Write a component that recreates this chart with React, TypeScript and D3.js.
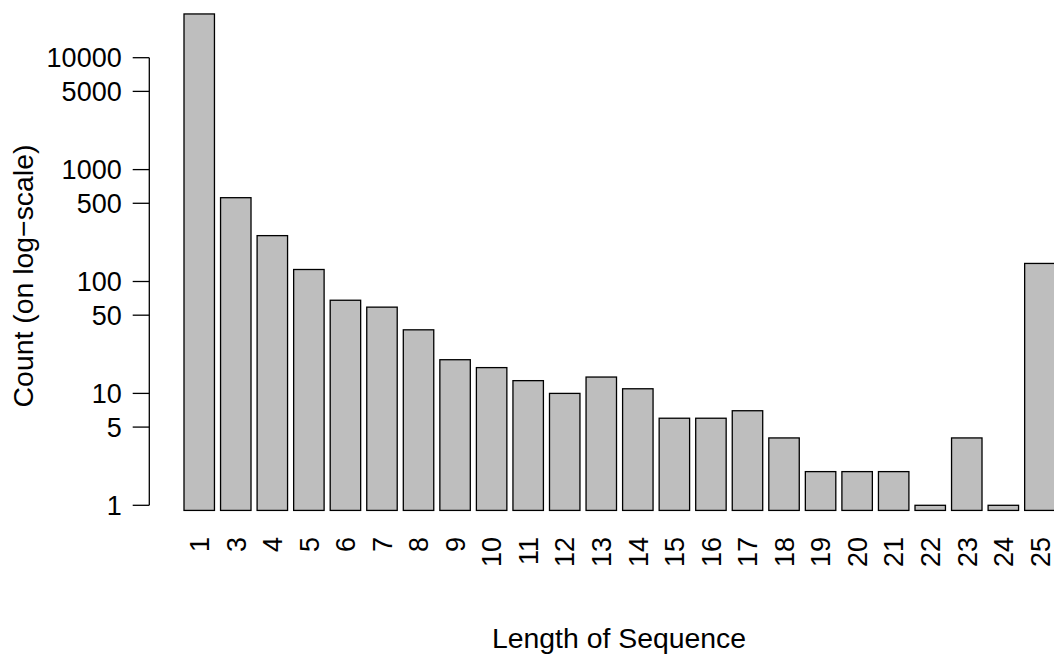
import React from "react";
import * as d3 from "d3";

const lengths = ["1","3","4","5","6","7","8","9","10","11","12","13","14","15","16","17","18","19","20","21","22","23","24","25"];
const counts = [24600, 561, 257, 128, 68, 59, 37, 20, 17, 13, 10, 14, 11, 6, 6, 7, 4, 2, 2, 2, 1, 4, 1, 145];
const yTicks = [1, 5, 10, 50, 100, 500, 1000, 5000, 10000];
const yLabel = "Count (on log\u2212scale)";
const xLabel = "Length of Sequence";

const W = 1054;
const H = 655;
const FONT = "'Liberation Sans', Arial, Helvetica, sans-serif";
const FS = 27;
const FS_LAB = 28.4;

export default function App() {
  const step = 36.55;
  const firstLeft = 184;
  const x = d3
    .scaleBand<string>()
    .domain(lengths)
    .range([firstLeft - step / 12, firstLeft - step / 12 + step * lengths.length])
    .paddingInner(1 / 6)
    .paddingOuter(1 / 12);
  const y = d3.scaleLog().domain([1, 10000]).range([505.3, 57.7]);
  const base = 0.9 * (d3.min(counts) as number);
  const axisX = 149.3;
  const plotCenter = 619;

  return (
    <svg
      width={W}
      height={H}
      style={{ position: "absolute", left: 0, top: 0, background: "#fff" }}
      fontFamily={FONT}
    >
      <rect x={0} y={0} width={W} height={H} fill="#fff" />
      {counts.map((c, i) => {
        const x0 = x(lengths[i]) as number;
        return (
          <rect
            key={i}
            x={x0}
            y={y(c)}
            width={x.bandwidth()}
            height={y(base) - y(c)}
            fill="#BEBEBE"
            stroke="#000"
            strokeWidth={1.3}
          />
        );
      })}
      <line x1={axisX} x2={axisX} y1={y(yTicks[0])} y2={y(yTicks[yTicks.length - 1])} stroke="#000" strokeWidth={1.3} />
      {yTicks.map((t) => (
        <g key={t}>
          <line x1={axisX - 16.6} x2={axisX} y1={y(t)} y2={y(t)} stroke="#000" strokeWidth={1.3} />
          <text x={121.7} y={y(t)} dy="0.36em" textAnchor="end" fontSize={FS} fill="#000">
            {t}
          </text>
        </g>
      ))}
      {lengths.map((l) => {
        const cx = (x(l) as number) + x.bandwidth() / 2;
        return (
          <text
            key={l}
            transform={`translate(${cx},537) rotate(-90)`}
            dy="0.36em"
            textAnchor="end"
            fontSize={FS}
            fill="#000"
          >
            {l}
          </text>
        );
      })}
      <text x={plotCenter} y={648} textAnchor="middle" fontSize={FS_LAB} fill="#000">
        {xLabel}
      </text>
      <text transform={`translate(33,276) rotate(-90)`} textAnchor="middle" fontSize={FS_LAB} fill="#000">
        {yLabel}
      </text>
    </svg>
  );
}
